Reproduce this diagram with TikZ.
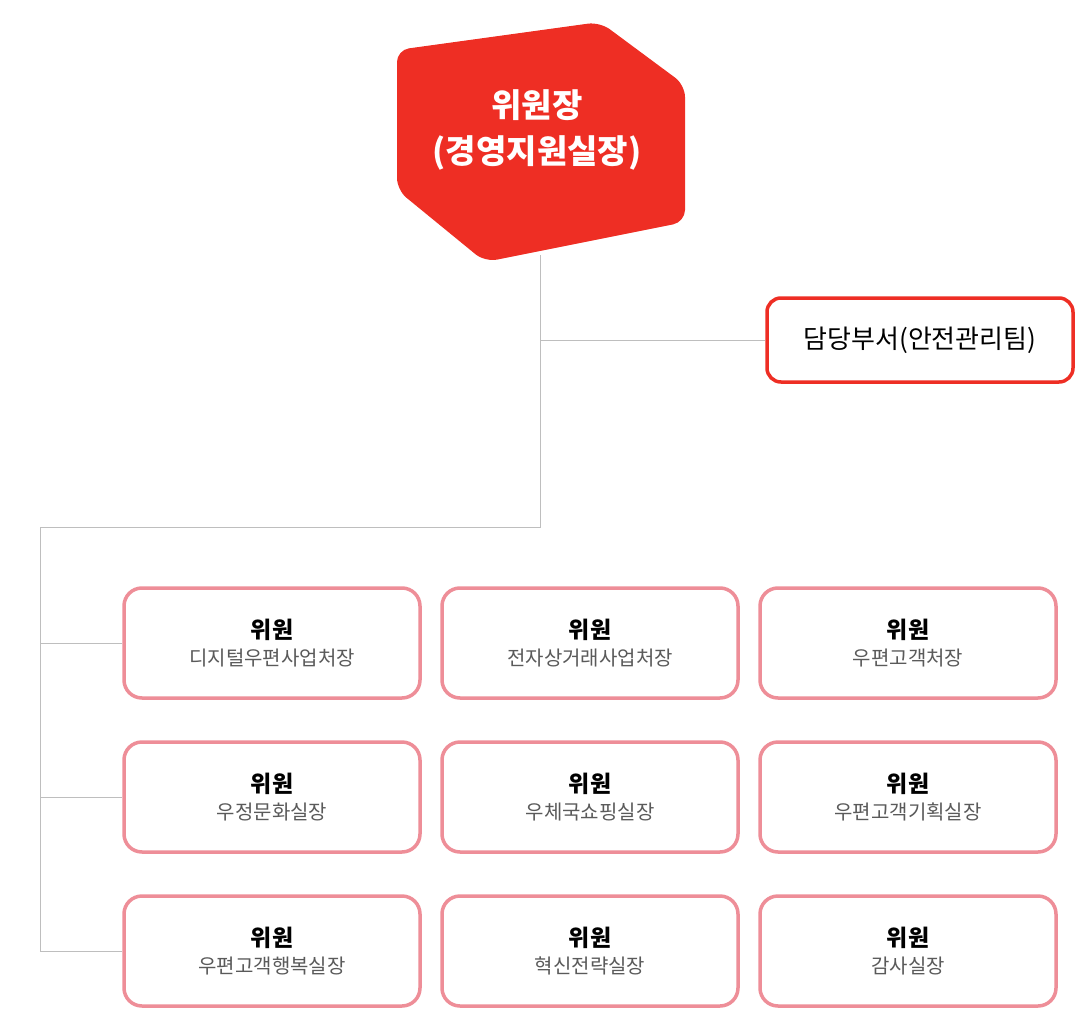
\documentclass[tikz,border=0pt]{standalone}
\usepackage{fontspec}
\setmainfont{Noto Sans CJK KR}
\definecolor{chairred}{RGB}{238,46,36}
\definecolor{memberpink}{RGB}{238,142,152}
\definecolor{linegray}{RGB}{190,190,190}
\definecolor{subgray}{RGB}{90,90,90}
\tikzset{
  member/.style={shape=rectangle,draw=memberpink,line width=3.5pt,rounded corners=18pt,fill=white,
    minimum width=296pt,minimum height=110pt,align=center,font=\fontsize{23}{28}\selectfont},
  orgline/.style={draw=linegray,line width=0.8pt}
}
\newcommand{\memb}[1]{\textbf{위원}\\[-1pt]{\fontsize{20}{24}\selectfont\color{subgray}#1}}
\begin{document}
\begin{tikzpicture}[x=1pt,y=-1pt]
    \useasboundingbox (0,0) rectangle (1080,1020);
    % chairman
    \fill[chairred,rounded corners=12pt] (397,50) -- (600,22) -- (685,85) -- (685,222) -- (485,262) -- (397,190) -- cycle;
    \node[text=white,align=center,font=\fontsize{33}{46}\bfseries] (chair) at (537,130) {위원장\\(경영지원실장)};
    \coordinate (chairfoot) at (540,255);
    % safety team
    \node[shape=rectangle,draw=chairred,line width=3.5pt,rounded corners=14pt,fill=white,
      minimum width=306pt,minimum height=84pt,font=\fontsize{26}{30}\selectfont] (team) at (920,340) {담당부서(안전관리팀)};
    % members
    \node[member] (m11) at (272,643) {\memb{디지털우편사업처장}};
    \node[member] (m12) at (590,643) {\memb{전자상거래사업처장}};
    \node[member] (m13) at (908,643) {\memb{우편고객처장}};
    \node[member] (m21) at (272,797) {\memb{우정문화실장}};
    \node[member] (m22) at (590,797) {\memb{우체국쇼핑실장}};
    \node[member] (m23) at (908,797) {\memb{우편고객기획실장}};
    \node[member] (m31) at (272,951) {\memb{우편고객행복실장}};
    \node[member] (m32) at (590,951) {\memb{혁신전략실장}};
    \node[member] (m33) at (908,951) {\memb{감사실장}};
    % connectors
    \coordinate (split) at (540,527);
    \coordinate (corner) at (40,527);
    \coordinate (tap) at (540,340);
    \draw[orgline] (chairfoot) -- (split) -- (corner) |- (m31.west);
    \draw[orgline] (tap) -- (team.west);
    \foreach \m in {m11,m21} \draw[orgline] (corner) |- (\m.west);
\end{tikzpicture}
\end{document}
